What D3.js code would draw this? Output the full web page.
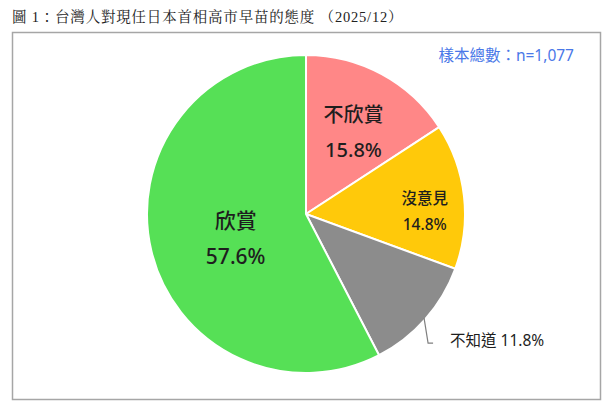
<!DOCTYPE html>
<html><head><meta charset="utf-8">
<script src="https://cdn.jsdelivr.net/npm/d3@7"></script>
<style>
body{margin:0;background:#fff;}
svg{display:block;}
text{font-family:"Noto Sans","Noto Sans CJK TC",sans-serif;}
</style></head>
<body>
<svg id="c" width="616" height="409"></svg>
<script>
const categories = ["不欣賞","沒意見","不知道","欣賞"];
const values = [15.8, 14.8, 11.8, 57.6];
const colors = ["#FF8787","#FFC90A","#8C8C8C","#56E056"];
const title = "圖 1：台灣人對現任日本首相高市早苗的態度 （2025/12）";
const sampleNote = "樣本總數：n=1,077";

const svg = d3.select("#c");
// frame
svg.append("rect").attr("x",12.5).attr("y",32.5).attr("width",588).attr("height",367)
  .attr("fill","#fff").attr("stroke","#a6a6a6").attr("stroke-width",1.5);

svg.append("text").attr("x",12).attr("y",22).attr("font-size",14.5).attr("fill","#222")
  .attr("letter-spacing",0.8)
  .style("font-family","'Liberation Serif','Noto Serif CJK TC','Noto Sans CJK TC',serif").text(title);

svg.append("text").attr("x",574).attr("y",61).attr("text-anchor","end").attr("font-size",15.5)
  .attr("fill","#4a78e8").text(sampleNote);

const cx = 306, cy = 214, r = 159;
const data = categories.map((c,i)=>({cat:c,val:values[i],color:colors[i]}));
const pie = d3.pie().value(d=>d.val).sort(null);
const arcs = pie(data);
const arc = d3.arc().innerRadius(0).outerRadius(r);
const g = svg.append("g").attr("transform",`translate(${cx},${cy})`);
g.selectAll("path").data(arcs).join("path").attr("d",arc)
  .attr("fill",d=>d.data.color).attr("stroke","#fff").attr("stroke-width",2);

const lab = (a, rr) => d3.arc().innerRadius(rr).outerRadius(rr).centroid(a);
const fmt = v => v.toFixed(1) + "%";
// inner labels
const inner = [
  {i:0, rr:0.68, size:20, gap:35, dx:-4, dy:13},
  {i:1, rr:0.72, size:15.5, gap:26, dx:5, dy:10},
  {i:3, rr:0.52, size:21, gap:36, dx:10, dy:5}
];
inner.forEach(o=>{
  const [x,y] = lab(arcs[o.i], r*o.rr);
  const t = g.append("text").attr("text-anchor","middle").attr("font-size",o.size)
    .attr("fill","#1e1e1e").attr("font-weight",500);
  t.append("tspan").attr("x",x+o.dx).attr("y",y+o.dy - o.gap/2 + o.size*0.36).text(arcs[o.i].data.cat);
  t.append("tspan").attr("x",x+o.dx).attr("y",y+o.dy + o.gap/2 + o.size*0.36).text(fmt(arcs[o.i].data.val));
});
// outer label for 不知道 with leader line
const a2 = arcs[2];
const [ox,oy] = d3.arc().innerRadius(r*0.99).outerRadius(r*0.99).centroid(a2);
g.append("path").attr("d",`M${ox},${oy}L${ox+4},${oy+25}L${ox+9},${oy+25}`)
  .attr("fill","none").attr("stroke","#7f7f7f").attr("stroke-width",1.2);
g.append("text").attr("x",ox+26).attr("y",oy+28).attr("font-size",15.5).attr("fill","#1e1e1e")
  .text(a2.data.cat + " " + fmt(a2.data.val));
</script>
</body></html>
